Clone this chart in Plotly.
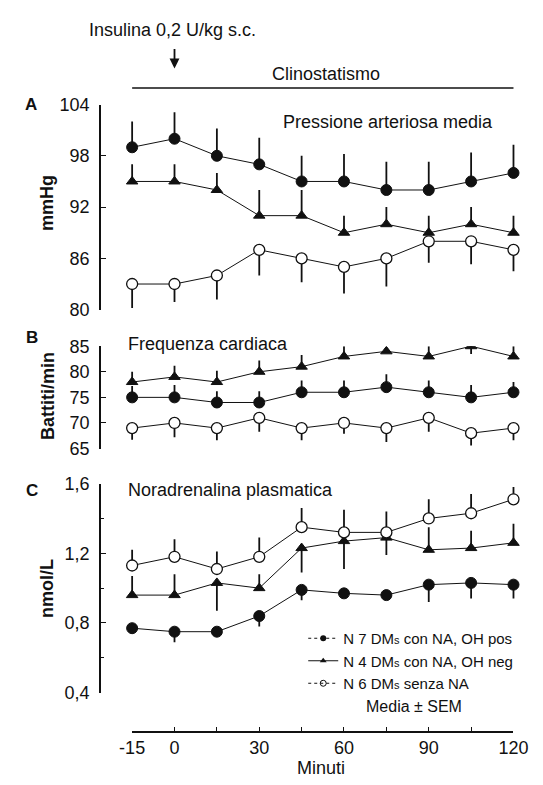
import plotly.graph_objects as go

# ---------------- data ----------------
minutes = [-15, 0, 15, 30, 45, 60, 75, 90, 105, 120]
x_tickvals = [-15, 0, 15, 30, 45, 60, 75, 90, 105, 120]
x_ticktext = ["-15", "0", "", "30", "", "60", "", "90", "", "120"]

series_names = [
    "N 7 DM<span style='font-size:11px'>s</span> con NA, OH pos",
    "N 4 DM<span style='font-size:11px'>s</span> con NA, OH neg",
    "N 6 DM<span style='font-size:11px'>s</span> senza NA",
]

# Panel A - Pressione arteriosa media (mmHg)
pam_pos = [99, 100, 98, 97, 95, 95, 94, 94, 95, 96]
pam_pos_up = [3.0, 3.1, 3.2, 3.1, 3.0, 3.2, 3.3, 3.3, 3.4, 3.3]
pam_pos_dn = [0, 0, 0, 0, 0, 0, 0, 0, 0, 0]
pam_neg = [95, 95, 94, 91, 91, 89, 90, 89, 90, 89]
pam_neg_up = [2.0, 2.0, 2.0, 3.0, 3.0, 2.0, 2.0, 2.0, 2.0, 2.0]
pam_neg_dn = [0, 0, 0, 0, 0, 0, 0, 0, 0, 0]
pam_none = [83, 83, 84, 87, 86, 85, 86, 88, 88, 87]
pam_none_up = [0, 0, 0, 0, 0, 0, 0, 0, 0, 0]
pam_none_dn = [2.8, 2.1, 2.8, 3.0, 2.8, 3.1, 3.3, 2.5, 2.7, 2.5]

# Panel B - Frequenza cardiaca (battiti/min)
fc_pos = [75, 75, 74, 74, 76, 76, 77, 76, 75, 76]
fc_pos_up = [2.2, 2.4, 2.2, 2.2, 2.3, 2.3, 2.5, 2.3, 2.4, 2.0]
fc_pos_dn = [0, 0, 0, 0, 0, 0, 0, 0, 0, 0]
fc_neg = [78, 79, 78, 80, 81, 83, 84, 83, 85, 83]
fc_neg_up = [2.0, 2.2, 2.2, 2.2, 2.3, 2.0, 0.7, 2.0, 1.0, 2.0]
fc_neg_dn = [0, 0, 0, 0, 0, 0, 0, 0, 1.5, 0]
fc_none = [69, 70, 69, 71, 69, 70, 69, 71, 68, 69]
fc_none_up = [0, 0, 0, 0, 0, 0, 0, 0, 0, 0]
fc_none_dn = [2.3, 2.8, 2.4, 2.7, 2.4, 2.1, 2.7, 2.7, 2.4, 2.4]

# Panel C - Noradrenalina plasmatica (nmol/L)
na_pos = [0.77, 0.75, 0.75, 0.84, 0.99, 0.97, 0.96, 1.02, 1.03, 1.02]
na_pos_up = [0, 0, 0, 0, 0, 0, 0, 0, 0, 0]
na_pos_dn = [0.03, 0.06, 0.02, 0.06, 0.06, 0.02, 0.02, 0.10, 0.09, 0.08]
na_neg = [0.96, 0.96, 1.03, 1.00, 1.23, 1.27, 1.29, 1.22, 1.23, 1.26]
na_neg_up = [0.11, 0.12, 0, 0.08, 0, 0, 0, 0.13, 0.10, 0.11]
na_neg_dn = [0, 0, 0.16, 0, 0.14, 0.16, 0.10, 0, 0, 0]
na_none = [1.13, 1.18, 1.11, 1.18, 1.35, 1.32, 1.32, 1.40, 1.43, 1.51]
na_none_up = [0.09, 0.10, 0.10, 0.11, 0.11, 0.13, 0.12, 0.11, 0.11, 0.07]
na_none_dn = [0, 0, 0, 0, 0, 0, 0, 0, 0, 0]

a_ticks = [80, 86, 92, 98, 104]
b_ticks = [65, 70, 75, 80, 85]
c_ticks = [0.4, 0.8, 1.2, 1.6]
c_ticktext = ["0,4", "0,8", "1,2", "1,6"]

# ---------------- layout helpers ----------------
W, H = 543, 785
FONT = "Liberation Sans, Arial, Helvetica, sans-serif"
INK = "#111111"


def px(p):
    return p / W


def py(p):
    return 1 - p / H


styles = [
    dict(symbol="circle", size=11, color=INK, line=dict(color=INK, width=1)),
    dict(symbol="triangle-up", size=10, color=INK, line=dict(color=INK, width=1)),
    dict(symbol="circle", size=11, color="white", line=dict(color=INK, width=1.3)),
]

fig = go.Figure()

panels = [
    ("x", "y", [(pam_pos, pam_pos_up, pam_pos_dn), (pam_neg, pam_neg_up, pam_neg_dn), (pam_none, pam_none_up, pam_none_dn)]),
    ("x2", "y2", [(fc_pos, fc_pos_up, fc_pos_dn), (fc_neg, fc_neg_up, fc_neg_dn), (fc_none, fc_none_up, fc_none_dn)]),
    ("x3", "y3", [(na_pos, na_pos_up, na_pos_dn), (na_neg, na_neg_up, na_neg_dn), (na_none, na_none_up, na_none_dn)]),
]

for xa, ya, sers in panels:
    for i, (vals, up, dn) in enumerate(sers):
        fig.add_trace(go.Scatter(
            x=minutes, y=vals, xaxis=xa, yaxis=ya,
            mode="lines+markers",
            line=dict(color=INK, width=1),
            marker=styles[i],
            error_y=dict(type="data", symmetric=False, array=up, arrayminus=dn,
                         color=INK, thickness=1.8, width=0),
            showlegend=False, hoverinfo="skip",
        ))

# legend-only entries (small glyphs as in the reference key)
leg_styles = [
    dict(marker=dict(symbol="circle", size=6, color=INK), line=dict(color=INK, width=1, dash="dot")),
    dict(marker=dict(symbol="triangle-up", size=6, color=INK), line=dict(color=INK, width=1)),
    dict(marker=dict(symbol="circle-open", size=6, color=INK, line=dict(width=1)), line=dict(color=INK, width=1, dash="dot")),
]
for name, st in zip(series_names, leg_styles):
    fig.add_trace(go.Scatter(x=[None], y=[None], xaxis="x3", yaxis="y3", mode="lines+markers",
                             name=name, marker=st["marker"], line=st["line"], showlegend=True))

# empty trace to materialise the bottom time axis
fig.add_trace(go.Scatter(x=[], y=[], xaxis="x4", yaxis="y4", showlegend=False))

# ---------------- axes ----------------
x_dom = [px(93), px(540)]
x_rng = [-25.95, 124.13]
hidden_x = dict(domain=x_dom, range=x_rng, visible=False, fixedrange=True)

yax_common = dict(
    showline=True, linecolor=INK, linewidth=2,
    ticks="inside", ticklen=5, tickwidth=1.3, tickcolor=INK,
    showgrid=False, zeroline=False,
    tickfont=dict(size=18, color=INK, family=FONT),
    ticklabelstandoff=6,
)

fig.update_layout(
    width=W, height=H,
    margin=dict(l=0, r=0, t=0, b=0),
    paper_bgcolor="white", plot_bgcolor="white",
    font=dict(family=FONT, color=INK, size=16),
    xaxis=dict(hidden_x, anchor="y"),
    xaxis2=dict(hidden_x, anchor="y2"),
    xaxis3=dict(hidden_x, anchor="y3"),
    yaxis=dict(yax_common, domain=[py(307.5), py(97)], range=[80, 104],
               tickvals=a_ticks, anchor="x"),
    yaxis2=dict(yax_common, domain=[py(450), py(345)], range=[65, 85],
                tickvals=b_ticks, anchor="x2"),
    yaxis3=dict(yax_common, domain=[py(700.5), py(486)], range=[0.4, 1.6],
                tickvals=c_ticks, ticktext=c_ticktext, anchor="x3",
                minor=dict(tickvals=[0.6, 1.0, 1.4], ticks="inside", ticklen=3,
                           tickwidth=1, tickcolor=INK)),
    xaxis4=dict(domain=[px(125.6), px(527.7)], range=[minutes[0], minutes[-1]], anchor="y4",
                showline=True, linecolor=INK, linewidth=1.5,
                ticks="inside", ticklen=4, tickwidth=1, tickcolor=INK,
                tickvals=x_tickvals, ticktext=x_ticktext,
                tickfont=dict(size=18, color=INK, family=FONT),
                showgrid=False, zeroline=False, fixedrange=True),
    yaxis4=dict(domain=[py(740), py(738)], visible=False, anchor="x4", range=[0, 1]),
    legend=dict(x=px(306), y=py(628), xanchor="left", yanchor="top",
                font=dict(size=15, color=INK, family=FONT),
                bgcolor="rgba(0,0,0,0)", itemwidth=30, tracegroupgap=0),
    showlegend=True,
)

# ---------------- annotations ----------------
ann = []


def text(t, x, y, size=18, bold=False, angle=0, xanchor="center"):
    ann.append(dict(text=("<b>%s</b>" % t) if bold else t, x=px(x), y=py(y),
                    xref="paper", yref="paper", showarrow=False,
                    xanchor=xanchor, yanchor="middle", textangle=angle,
                    font=dict(size=size, color=INK, family=FONT)))


text("Insulina 0,2 U/kg s.c.", 168, 21)
text("Clinostatismo", 330, 66)
text("A", 18.5, 97, size=17, bold=True)
text("B", 20, 336, size=17, bold=True)
text("C", 20, 493, size=17, bold=True)
text("mmHg", 36, 198, bold=True, angle=-90)
text("Battiti/min", 37, 396, bold=True, angle=-90)
text("nmol/L", 36, 594, bold=True, angle=-90)
text("Pressione arteriosa media", 395, 114.5)
text("Frequenza cardiaca", 206, 343)
text("Noradrenalina plasmatica", 229, 493)
text("Media ± SEM", 423, 715, size=16)
text("Minuti", 325, 778)

# insulin arrow at time 0
ann.append(dict(x=minutes[1], y=py(60), xref="x", yref="paper", text="", showarrow=True,
                ax=0, ay=-21, arrowhead=2, arrowsize=1.1, arrowwidth=1.8,
                arrowcolor=INK, standoff=0))

fig.update_layout(annotations=ann)

# supine (clinostatismo) bar spanning the whole protocol
fig.add_shape(type="line", xref="x", yref="paper", x0=minutes[0], x1=minutes[-1],
              y0=py(80), y1=py(80), line=dict(color=INK, width=1.5))

fig.write_html("out.html")
